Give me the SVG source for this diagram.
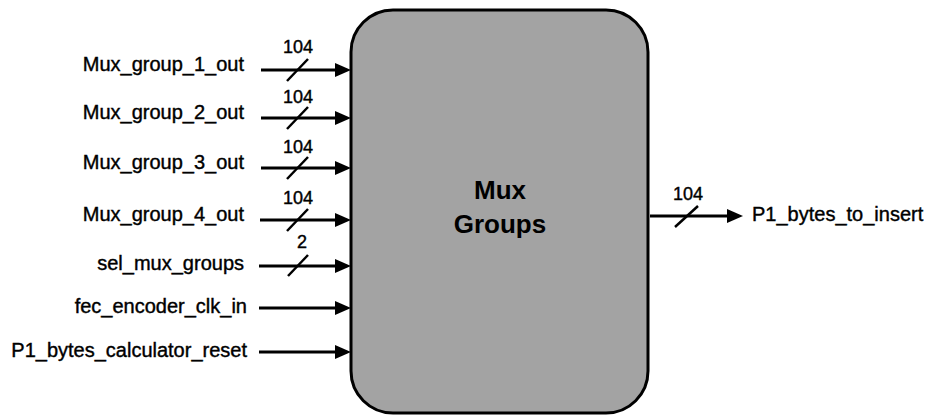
<svg xmlns="http://www.w3.org/2000/svg" width="928" height="416" viewBox="0 0 928 416">
<style>
.lbl{font-family:"Liberation Sans",Arial,sans-serif;font-size:20px;fill:#000;stroke:#000;stroke-width:0.4}
.w{font-family:"Liberation Sans",Arial,sans-serif;font-size:18px;fill:#000;stroke:#000;stroke-width:0.4;text-anchor:middle}
.title{font-family:"Liberation Sans",Arial,sans-serif;font-size:26px;font-weight:bold;fill:#000;text-anchor:middle}
.wire{stroke:#000;stroke-width:3;fill:none}
.slash{stroke:#000;stroke-width:2.5}
</style>
<defs>
<marker id="ah" markerUnits="userSpaceOnUse" markerWidth="16" markerHeight="14" refX="2" refY="7" orient="auto">
<path d="M0,0 L16,7 L0,14 z" fill="#000"/>
</marker>
</defs>
<rect width="928" height="416" fill="#fff"/>
<g id="mux_groups">
<rect x="351" y="10" width="297" height="403" rx="42" ry="42" fill="#a3a3a3" stroke="#000" stroke-width="3"/>
<text class="title" x="500" y="199">Mux</text>
<text class="title" x="500" y="233">Groups</text>
</g>
<g id="labels_in" class="lbl" text-anchor="end">
<text x="244" y="71">Mux_group_1_out</text>
<text x="244" y="119">Mux_group_2_out</text>
<text x="244" y="169">Mux_group_3_out</text>
<text x="244" y="221">Mux_group_4_out</text>
<text x="244" y="270">sel_mux_groups</text>
<text x="247" y="313">fec_encoder_clk_in</text>
<text x="247" y="357">P1_bytes_calculator_reset</text>
</g>
<g id="label_out" class="lbl">
<text x="752" y="221">P1_bytes_to_insert</text>
</g>
<g id="connectors">
<line class="wire" x1="261" y1="70" x2="337" y2="70" marker-end="url(#ah)"/>
<line class="wire" x1="261" y1="118" x2="337" y2="118" marker-end="url(#ah)"/>
<line class="wire" x1="261" y1="168" x2="337" y2="168" marker-end="url(#ah)"/>
<line class="wire" x1="260" y1="220" x2="337" y2="220" marker-end="url(#ah)"/>
<line class="wire" x1="259" y1="266" x2="337" y2="266" marker-end="url(#ah)"/>
<line class="wire" x1="259" y1="308" x2="337" y2="308" marker-end="url(#ah)"/>
<line class="wire" x1="259" y1="352" x2="337" y2="352" marker-end="url(#ah)"/>
<line class="wire" x1="650" y1="216" x2="729" y2="216" marker-end="url(#ah)"/>
<line class="slash" x1="287" y1="81" x2="308" y2="59"/>
<line class="slash" x1="287" y1="129" x2="308" y2="107"/>
<line class="slash" x1="287" y1="179" x2="308" y2="157"/>
<line class="slash" x1="287" y1="231" x2="308" y2="209"/>
<line class="slash" x1="288" y1="276" x2="308" y2="255"/>
<line class="slash" x1="675" y1="227" x2="698" y2="206"/>
<text class="w" x="298" y="53">104</text>
<text class="w" x="298" y="103">104</text>
<text class="w" x="298" y="153">104</text>
<text class="w" x="298" y="204">104</text>
<text class="w" x="302" y="248">2</text>
<text class="w" x="688" y="200">104</text>
</g>
</svg>
